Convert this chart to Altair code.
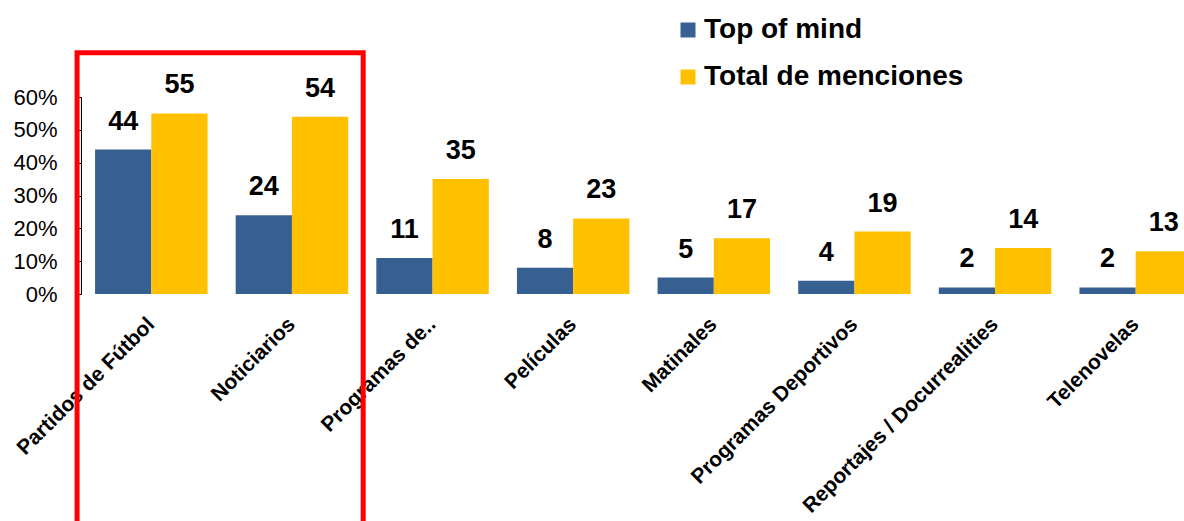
import altair as alt
import pandas as pd

categories = [
    "Partidos de Fútbol",
    "Noticiarios",
    "Programas de..",
    "Películas",
    "Matinales",
    "Programas Deportivos",
    "Reportajes / Docurrealities",
    "Telenovelas",
]
series_names = ["Top of mind", "Total de menciones"]
top_of_mind = [44, 24, 11, 8, 5, 4, 2, 2]
total_menciones = [55, 54, 35, 23, 17, 19, 14, 13]
colors = ["#376092", "#FFC000"]
y_ticks = [0, 0.1, 0.2, 0.3, 0.4, 0.5, 0.6]

rows = []
for i, c in enumerate(categories):
    rows.append({"cat": c, "serie": series_names[0], "v": top_of_mind[i] / 100, "lab": str(top_of_mind[i])})
    rows.append({"cat": c, "serie": series_names[1], "v": total_menciones[i] / 100, "lab": str(total_menciones[i])})
df = pd.DataFrame(rows)

FONT = "Liberation Sans"
PLOT_W = 1103      # visible plot area (to the window's right edge)
BAND_RANGE = 1125  # category axis runs past the right edge, as in the reference

x_axis = alt.Axis(
    title=None,
    labelAngle=-45,
    labelAlign="right",
    labelBaseline="middle",
    labelFont=FONT,
    labelFontSize=21,
    labelFontWeight="bold",
    labelColor="black",
    labelPadding=27,
    domain=False,
    ticks=False,
    labelLimit=400,
    labelOverlap=False,
)
y_axis = alt.Axis(
    title=None,
    format=".0%",
    values=y_ticks,
    tickCount=7,
    grid=False,
    domainColor="black",
    domainWidth=1,
    tickColor="black",
    tickSize=5,
    labelFont=FONT,
    labelFontSize=22,
    labelColor="black",
    labelPadding=19,
    labelOverlap=False,
)
x_scale = alt.Scale(paddingInner=0.2, paddingOuter=0.1, range=[0, BAND_RANGE])
y_scale = alt.Scale(domain=[0, 0.6], nice=False)

color_enc = alt.Color(
    "serie:N",
    sort=series_names,
    scale=alt.Scale(domain=series_names, range=colors),
    legend=alt.Legend(
        title=None,
        orient="none",
        legendX=593,
        legendY=-81,
        symbolType="square",
        symbolSize=225,
        symbolStrokeWidth=0,
        labelFont=FONT,
        labelFontSize=28,
        labelFontWeight="bold",
        labelColor="black",
        labelOffset=2,
        rowPadding=19,
        labelLimit=500,
    ),
)

bars = alt.Chart(df).mark_bar(clip=True).encode(
    x=alt.X("cat:N", sort=categories, scale=x_scale, axis=x_axis),
    xOffset=alt.XOffset("serie:N", sort=series_names, scale=alt.Scale(paddingInner=0, paddingOuter=0)),
    y=alt.Y("v:Q", scale=y_scale, axis=y_axis),
    color=color_enc,
)

labels = alt.Chart(df).mark_text(
    font=FONT, fontSize=27, fontWeight="bold", color="black", baseline="alphabetic", dy=-20
).encode(
    x=alt.X("cat:N", sort=categories, scale=x_scale, axis=x_axis),
    xOffset=alt.XOffset("serie:N", sort=series_names),
    y=alt.Y("v:Q", scale=y_scale, axis=y_axis),
    text="lab:N",
)

box_df = pd.DataFrame({"top": [0.735], "bottom": [-0.8]})
box = alt.Chart(box_df).mark_rect(
    filled=False, stroke="#FF0000", strokeWidth=5, xOffset=-18, x2Offset=15
).encode(
    x=alt.XDatum(categories[0], bandPosition=0),
    x2=alt.X2Datum(categories[1], bandPosition=1),
    y=alt.Y("top:Q", scale=y_scale, axis=y_axis),
    y2="bottom:Q",
)

chart = alt.layer(bars, labels, box).properties(
    width=PLOT_W,
    height=197,
    autosize=alt.AutoSizeParams(type="none"),
    padding={"left": 81, "top": 97, "right": 0, "bottom": 227},
).configure_view(stroke=None).configure_axisY(labelOverlap=False)

chart.save("out.html", embed_options={"renderer": "svg", "actions": False})
